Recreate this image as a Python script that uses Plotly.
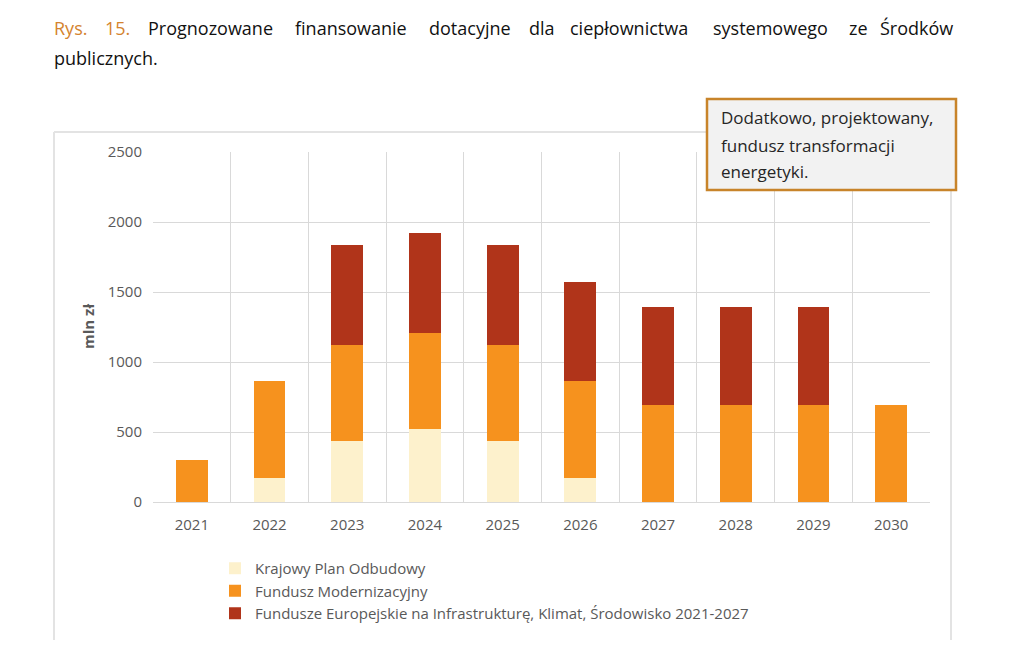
import plotly.graph_objects as go

years = [2021, 2022, 2023, 2024, 2025, 2026, 2027, 2028, 2029, 2030]
kpo = [0, 175, 435, 520, 435, 175, 0, 0, 0, 0]
fm = [300, 690, 690, 690, 690, 690, 690, 690, 690, 690]
fe = [0, 0, 710, 710, 710, 705, 705, 705, 705, 0]
series_names = [
    "Krajowy Plan Odbudowy",
    "Fundusz Modernizacyjny",
    "Fundusze Europejskie na Infrastrukturę, Klimat, Środowisko 2021-2027",
]
colors = ["#FDF1CC", "#F6921E", "#B0341A"]

title_words_l1 = ["Rys.", "15.", "Prognozowane", "finansowanie", "dotacyjne", "dla",
                  "ciepłownictwa", "systemowego", "ze", "Środków"]
title_word_px = [52, 103, 146, 293, 427, 527, 568, 711, 847, 878]
title_l2 = "publicznych."
box_lines = ["Dodatkowo, projektowany,", "fundusz transformacji", "energetyki."]

FONT = "Open Sans"
L, R, T, B = 153, 930, 152, 502
W, H = 1024, 660


def px(x):
    return (x - L) / (R - L)


def py(y):
    return (B - y) / (B - T)


fig = go.Figure()
for name, vals, col in zip(series_names, [kpo, fm, fe], colors):
    fig.add_trace(go.Bar(x=years, y=vals, name=name, marker=dict(color=col, line=dict(width=0))))

annotations = []
for i, (w, xp) in enumerate(zip(title_words_l1, title_word_px)):
    annotations.append(dict(
        text=w, x=px(xp), y=py(28), xref="paper", yref="paper", xanchor="left", yanchor="middle",
        showarrow=False, font=dict(family=FONT, size=18, color="#D4832E" if i < 2 else "#111111")))
annotations.append(dict(
    text=title_l2, x=px(52), y=py(58), xref="paper", yref="paper", xanchor="left", yanchor="middle",
    showarrow=False, font=dict(family=FONT, size=18, color="#111111")))
for line, yy in zip(box_lines, [118, 145, 171]):
    annotations.append(dict(
        text=line, x=px(719), y=py(yy), xref="paper", yref="paper", xanchor="left", yanchor="middle",
        showarrow=False, font=dict(family=FONT, size=17, color="#262626")))
annotations.append(dict(
    text="<b>mln zł</b>", x=px(88), y=py(327), xref="paper", yref="paper", xanchor="center",
    yanchor="middle", textangle=-90, showarrow=False, font=dict(family=FONT, size=15, color="#595959")))

shapes = [
    dict(type="line", xref="paper", yref="paper", x0=px(54), x1=px(54), y0=py(132), y1=py(640),
         line=dict(color="#E3E3E3", width=2)),
    dict(type="line", xref="paper", yref="paper", x0=px(54), x1=px(951), y0=py(132), y1=py(132),
         line=dict(color="#E3E3E3", width=2)),
    dict(type="line", xref="paper", yref="paper", x0=px(951), x1=px(951), y0=py(132), y1=py(640),
         line=dict(color="#E3E3E3", width=2)),
    dict(type="rect", xref="paper", yref="paper", x0=px(707), x1=px(956), y0=py(190), y1=py(99),
         fillcolor="#F2F2F2", line=dict(color="#C8842A", width=2.5), layer="above"),
]

fig.update_layout(
    width=W, height=H,
    margin=dict(l=L, r=W - R, t=T, b=H - B),
    paper_bgcolor="white", plot_bgcolor="white",
    barmode="stack", bargap=0.59,
    font=dict(family=FONT, size=15, color="#595959"),
    showlegend=True,
    legend=dict(orientation="v", traceorder="normal", x=px(215), y=py(552), xanchor="left",
                yanchor="top", font=dict(family=FONT, size=15, color="#595959"),
                bgcolor="rgba(0,0,0,0)", itemclick=False, tracegroupgap=0),
    annotations=annotations,
    shapes=shapes,
)
fig.update_xaxes(
    range=[2020.5, 2030.5], tickvals=years, ticktext=[str(y) for y in years],
    showgrid=False, showline=False, zeroline=False, ticks="", ticklabelstandoff=12,
    minor=dict(tick0=2020.5, dtick=1, showgrid=True, gridcolor="#D9D9D9", gridwidth=1),
    tickfont=dict(family=FONT, size=15, color="#595959"),
)
fig.update_yaxes(
    range=[0, 2500], dtick=500, showgrid=True, gridcolor="#D9D9D9", gridwidth=1,
    zeroline=True, zerolinecolor="#D9D9D9", zerolinewidth=1, showline=False, ticks="",
    ticklabelstandoff=10, tickfont=dict(family=FONT, size=15, color="#595959"),
)

fig.write_html("out.html")
